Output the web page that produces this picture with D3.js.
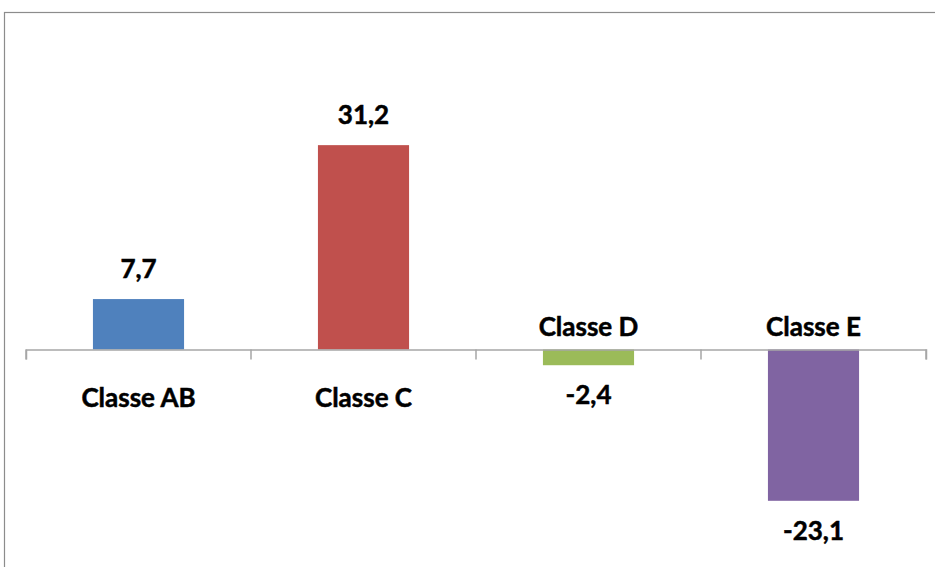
<!DOCTYPE html>
<html>
<head>
<meta charset="utf-8">
<script src="https://cdn.jsdelivr.net/npm/d3@7"></script>
<style>
  html, body { margin: 0; padding: 0; background: #ffffff; }
  svg { display: block; }
</style>
</head>
<body>
<svg id="chart" width="935" height="567"></svg>
<script>
const categories = ["Classe AB", "Classe C", "Classe D", "Classe E"];
const values = [7.7, 31.2, -2.4, -23.1];
const valueLabels = ["7,7", "31,2", "-2,4", "-23,1"];
const colors = ["#4F81BD", "#C0504D", "#9BBB59", "#8064A2"];
const yDomain = [-30, 40];

const svg = d3.select("#chart");
const font = "Lato, 'Open Sans', sans-serif";

// outer frame (extends beyond the visible area on right/bottom)
svg.append("rect")
  .attr("x", 4.5).attr("y", 12.5)
  .attr("width", 1000).attr("height", 1000)
  .attr("fill", "#ffffff")
  .attr("stroke", "#8c8c8c").attr("stroke-width", 1.2);

const x = d3.scaleBand().domain(categories).range([26, 926]).padding(0);
const y = d3.scaleLinear().domain(yDomain).range([349.5 + 30 * 6.55, 349.5 - 40 * 6.55]);
const barW = x.bandwidth() * 0.405;

// bars
svg.append("g").selectAll("rect")
  .data(categories)
  .join("rect")
  .attr("x", (d) => x(d) + x.bandwidth() / 2 - barW / 2)
  .attr("y", (d, i) => Math.min(y(values[i]), y(0)))
  .attr("width", barW)
  .attr("height", (d, i) => Math.abs(y(values[i]) - y(0)))
  .attr("fill", (d, i) => colors[i]);

// category axis at zero
const axis = d3.axisBottom(x).tickSize(10).tickFormat("").tickSizeOuter(10);
const gAxis = svg.append("g").attr("transform", `translate(0,${y(0)})`);
gAxis.call(axis);
gAxis.selectAll(".tick").remove();
gAxis.select(".domain").attr("stroke", "#a6a6a6").attr("stroke-width", 1.5);
const bounds = categories.map((d) => x(d)).concat([x.range()[1]]);
gAxis.selectAll("line.b")
  .data(bounds)
  .join("line")
  .attr("class", "b")
  .attr("x1", (d) => d).attr("x2", (d) => d)
  .attr("y1", 0).attr("y2", 10)
  .attr("stroke", "#a6a6a6").attr("stroke-width", 1.5);

function styleText(sel) {
  sel.attr("text-anchor", "middle")
    .attr("font-family", font)
    .attr("font-weight", "bold")
    .attr("font-size", 26)
    .attr("fill", "#000")
    .attr("stroke", "#000")
    .attr("stroke-width", 0.5);
}

// category labels
svg.append("g").selectAll("text")
  .data(categories)
  .join("text")
  .attr("x", (d) => x(d) + x.bandwidth() / 2)
  .attr("y", (d, i) => values[i] >= 0 ? y(0) + 57 : y(0) - 14)
  .call(styleText)
  .text((d) => d);

// value labels
svg.append("g").selectAll("text")
  .data(categories)
  .join("text")
  .attr("x", (d) => x(d) + x.bandwidth() / 2)
  .attr("y", (d, i) => values[i] >= 0 ? y(values[i]) - 21 : y(values[i]) + 39)
  .call(styleText)
  .text((d, i) => valueLabels[i]);
</script>
</body>
</html>
